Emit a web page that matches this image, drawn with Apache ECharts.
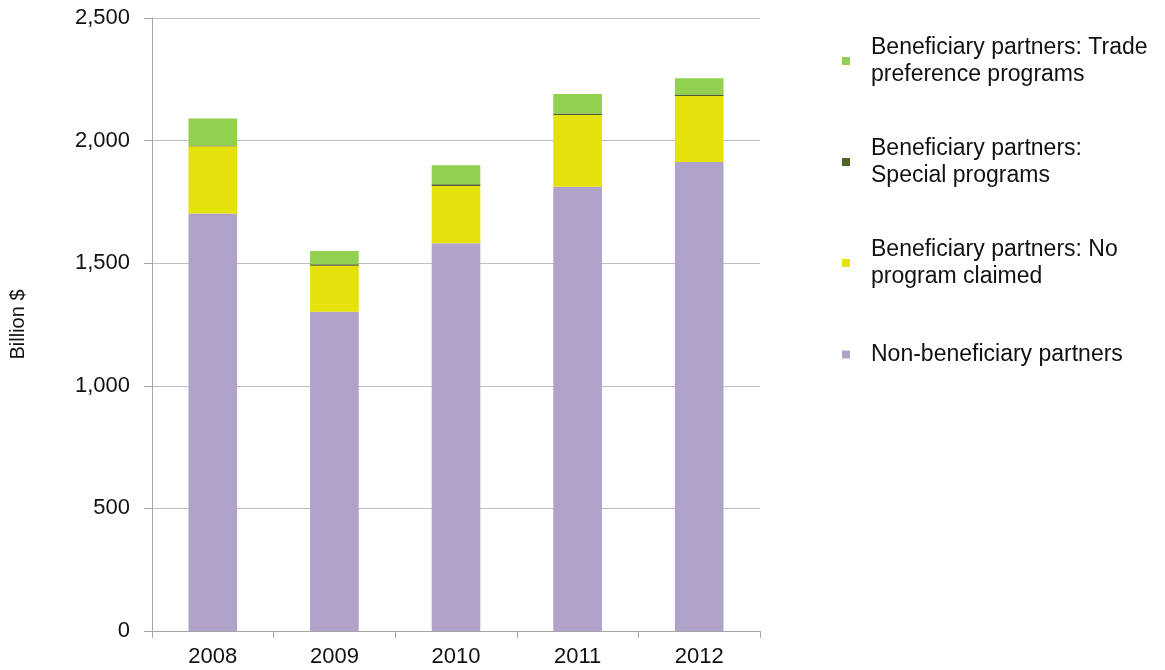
<!DOCTYPE html>
<html>
<head>
<meta charset="utf-8">
<script src="https://cdn.jsdelivr.net/npm/echarts@6/dist/echarts.min.js"></script>
<style>
  html, body { margin: 0; padding: 0; background: #fff; }
  #main { width: 1165px; height: 670px; }
</style>
</head>
<body>
<div id="main"></div>
<script>
var years = ['2008', '2009', '2010', '2011', '2012'];
var nonBeneficiary = [1703, 1302, 1581, 1812, 1913];
var noProgram = [274, 188, 234, 292, 269];
var specialPrograms = [3, 6, 7, 7, 6];
var tradePreference = [110, 54, 77, 79, 66];

var names = [
    'Non-beneficiary partners',
    'Beneficiary partners: No program claimed',
    'Beneficiary partners: Special programs',
    'Beneficiary partners: Trade preference programs'
];
var legendLabels = {
    'Beneficiary partners: Trade preference programs': 'Beneficiary partners: Trade\npreference programs',
    'Beneficiary partners: Special programs': 'Beneficiary partners:\nSpecial programs',
    'Beneficiary partners: No program claimed': 'Beneficiary partners: No\nprogram claimed',
    'Non-beneficiary partners': 'Non-beneficiary partners'
};
var colors = ['#b1a2c9', '#e5e10b', '#4f6228', '#92d050'];
var font = 'Liberation Sans, Arial, sans-serif';

var myChart = echarts.init(document.getElementById('main'));

function bar(i, values) {
    return {
        name: names[i],
        type: 'bar',
        stack: 'total',
        barWidth: '40%',
        itemStyle: { color: colors[i] },
        data: values
    };
}

// legend text settings shared by both legend blocks
var legendBase = {
    orient: 'vertical',
    left: 842,
    padding: 0,
    itemWidth: 8,
    itemHeight: 8,
    icon: 'rect',
    selectedMode: false,
    textStyle: {
        fontFamily: font,
        fontSize: 23,
        lineHeight: 27,
        color: '#111',
        padding: [12, 0, 0, 16]
    },
    formatter: function (name) { return legendLabels[name]; }
};

myChart.setOption({
    animation: false,
    grid: { left: 147, right: 405, top: 18, bottom: 39 },
    legend: [
        Object.assign({}, legendBase, {
            top: 28,
            itemGap: 35,
            data: [names[3], names[2], names[1]]
        }),
        Object.assign({}, legendBase, {
            top: 341,
            textStyle: Object.assign({}, legendBase.textStyle, { padding: [0, 0, 0, 16] }),
            data: [names[0]]
        })
    ],
    xAxis: {
        type: 'category',
        data: years,
        axisLine: { lineStyle: { color: '#a6a6a6', width: 1 } },
        axisTick: { show: true, length: 7, lineStyle: { color: '#a6a6a6' } },
        axisLabel: { fontFamily: font, fontSize: 22, color: '#111', margin: 15 }
    },
    yAxis: {
        type: 'value',
        min: 0,
        max: 2500,
        interval: 500,
        name: 'Billion $',
        nameLocation: 'middle',
        nameRotate: 90,
        nameGap: 124,
        nameTextStyle: { fontFamily: font, fontSize: 20, color: '#111' },
        axisLine: { show: true, lineStyle: { color: '#a6a6a6', width: 1 } },
        axisTick: { show: true, length: 8, lineStyle: { color: '#a6a6a6' } },
        splitLine: { lineStyle: { color: '#bdbdbd', width: 1 } },
        axisLabel: {
            fontFamily: font,
            fontSize: 22,
            color: '#111',
            margin: 22,
            formatter: function (v) { return v.toLocaleString('en-US'); }
        }
    },
    series: [
        bar(0, nonBeneficiary),
        bar(1, noProgram),
        bar(2, specialPrograms),
        bar(3, tradePreference)
    ]
});
</script>
</body>
</html>
